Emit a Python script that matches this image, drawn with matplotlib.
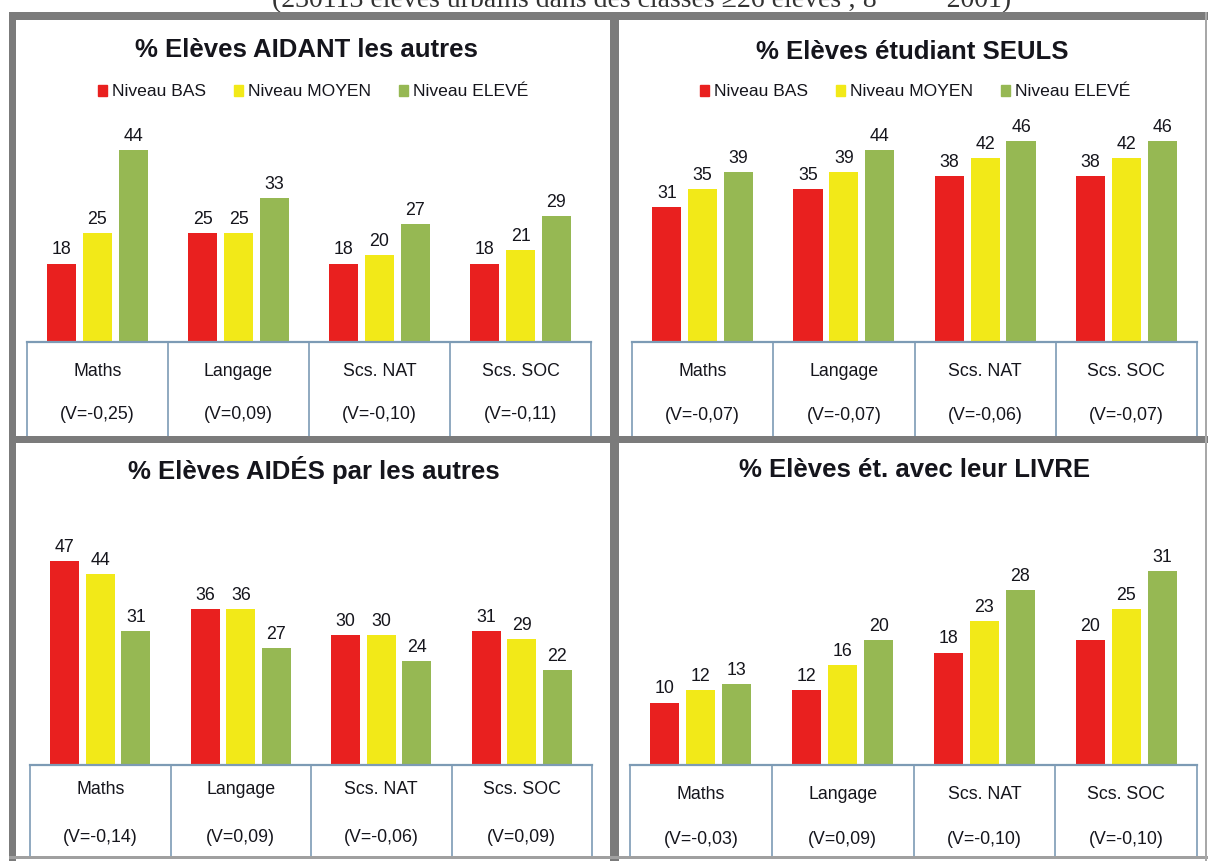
import matplotlib
matplotlib.use("Agg")
import matplotlib.pyplot as plt
from matplotlib.patches import Patch, Rectangle

plt.rcParams['font.family'] = ['Liberation Sans', 'DejaVu Sans']

subjects = ['Maths', 'Langage', 'Scs. NAT', 'Scs. SOC']
levels = ['Niveau BAS', 'Niveau MOYEN', 'Niveau ELEVÉ']
colors = ['#e9201f', '#f2e918', '#96b853']

aidant_bas = [18, 25, 18, 18]
aidant_moyen = [25, 25, 20, 21]
aidant_eleve = [44, 33, 27, 29]
aidant_v = ['(V=-0,25)', '(V=0,09)', '(V=-0,10)', '(V=-0,11)']

seuls_bas = [31, 35, 38, 38]
seuls_moyen = [35, 39, 42, 42]
seuls_eleve = [39, 44, 46, 46]
seuls_v = ['(V=-0,07)', '(V=-0,07)', '(V=-0,06)', '(V=-0,07)']

aides_bas = [47, 36, 30, 31]
aides_moyen = [44, 36, 30, 29]
aides_eleve = [31, 27, 24, 22]
aides_v = ['(V=-0,14)', '(V=0,09)', '(V=-0,06)', '(V=0,09)']

livre_bas = [10, 12, 18, 20]
livre_moyen = [12, 16, 23, 25]
livre_eleve = [13, 20, 28, 31]
livre_v = ['(V=-0,03)', '(V=0,09)', '(V=-0,10)', '(V=-0,10)']

W, H = 1208, 861
fig = plt.figure(figsize=(W / 100, H / 100), dpi=100)
fig.patch.set_facecolor('white')

TXT = '#15151c'
GRID = '#7d9bb5'
FRAME = '#7b7b7b'


def px_axes(x0, y0, x1, y1):
    return fig.add_axes([x0 / W, 1 - y1 / H, (x1 - x0) / W, (y1 - y0) / H])


def panel(title, series, vlabels, x0, x1, base, bottom, scale, title_xy,
          cat_y, v_y, legend_xy=None):
    # bars
    top = base - 230
    ax = px_axes(x0, top, x1, base)
    ax.set_xlim(0, 4)
    ax.set_ylim(0, (base - top) / scale)
    ax.axis('off')
    width = 0.206
    offs = [-0.254, 0, 0.254]
    for k, vals in enumerate(series):
        xs = [i + 0.5 + offs[k] for i in range(4)]
        bars = ax.bar(xs, vals, width=width, color=colors[k], label=levels[k])
        for b, v in zip(bars, vals):
            ax.annotate(str(v), (b.get_x() + b.get_width() / 2, v),
                        xytext=(0, 6.5), textcoords='offset points',
                        ha='center', va='baseline', fontsize=12.8,
                        color=TXT, annotation_clip=False)
    # table under the bars
    tb = px_axes(x0, base, x1, bottom)
    tb.set_xlim(0, 4)
    tb.set_ylim(bottom, base)
    tb.axis('off')
    tb.plot([0, 4], [base, base], color=GRID, lw=1.6, clip_on=False)
    for i in range(5):
        tb.plot([i, i], [base, bottom], color=GRID, lw=1.2, clip_on=False)
    for i in range(4):
        tb.text(i + 0.5, cat_y, subjects[i], ha='center', va='center',
                fontsize=12.8, color=TXT)
        tb.text(i + 0.5, v_y, vlabels[i], ha='center', va='center',
                fontsize=12.8, color=TXT)
    fig.text(title_xy[0] / W, 1 - title_xy[1] / H, title, ha='center',
             va='center', fontsize=18.5, fontweight='bold', color=TXT)
    if legend_xy is not None:
        handles = [Patch(color=c, label=l) for c, l in zip(colors, levels)]
        fig.legend(handles=handles, ncol=3, loc='center',
                   bbox_to_anchor=(legend_xy[0] / W, 1 - legend_xy[1] / H),
                   frameon=False, fontsize=12.6, handlelength=0.55,
                   handleheight=0.55, handletextpad=0.25, columnspacing=1.6,
                   labelcolor=TXT)


panel('% Elèves AIDANT les autres', [aidant_bas, aidant_moyen, aidant_eleve],
      aidant_v, 27, 591, 342, 436, 4.36, (306, 50), 371, 415, (313, 92))
panel('% Elèves étudiant SEULS', [seuls_bas, seuls_moyen, seuls_eleve],
      seuls_v, 632, 1197, 342, 436, 4.37, (912, 52), 371, 416, (915, 92))
panel('% Elèves AIDÉS par les autres', [aides_bas, aides_moyen, aides_eleve],
      aides_v, 30, 592, 765, 857, 4.33, (314, 470), 790, 838)
panel('% Elèves ét. avec leur LIVRE', [livre_bas, livre_moyen, livre_eleve],
      livre_v, 630, 1197, 765, 857, 6.25, (915, 470), 795, 840)


def frame_rect(x0, y0, x1, y1, color=FRAME):
    fig.add_artist(Rectangle((x0 / W, 1 - y1 / H), (x1 - x0) / W,
                             (y1 - y0) / H, transform=fig.transFigure,
                             color=color, lw=0, zorder=5))


frame_rect(9, 12, W, 20)
frame_rect(9, 12, 16, H)
frame_rect(610, 12, 619, H)
frame_rect(9, 436, W, 443)
frame_rect(9, 856, W, 859, '#a0a0a0')
frame_rect(1205, 12, 1207, H, '#a8a8a8')

# header line, cut off at the top of the picture as in the source scan
fig.text(642 / W, 1 - 7 / H,
         '(230113 élèves urbains dans des classes ≥26 élèves ; 8          2001)',
         ha='center', va='baseline', fontsize=20, color='#333333',
         family=['Liberation Serif', 'DejaVu Serif'])

fig.savefig('out.png', dpi=100)
